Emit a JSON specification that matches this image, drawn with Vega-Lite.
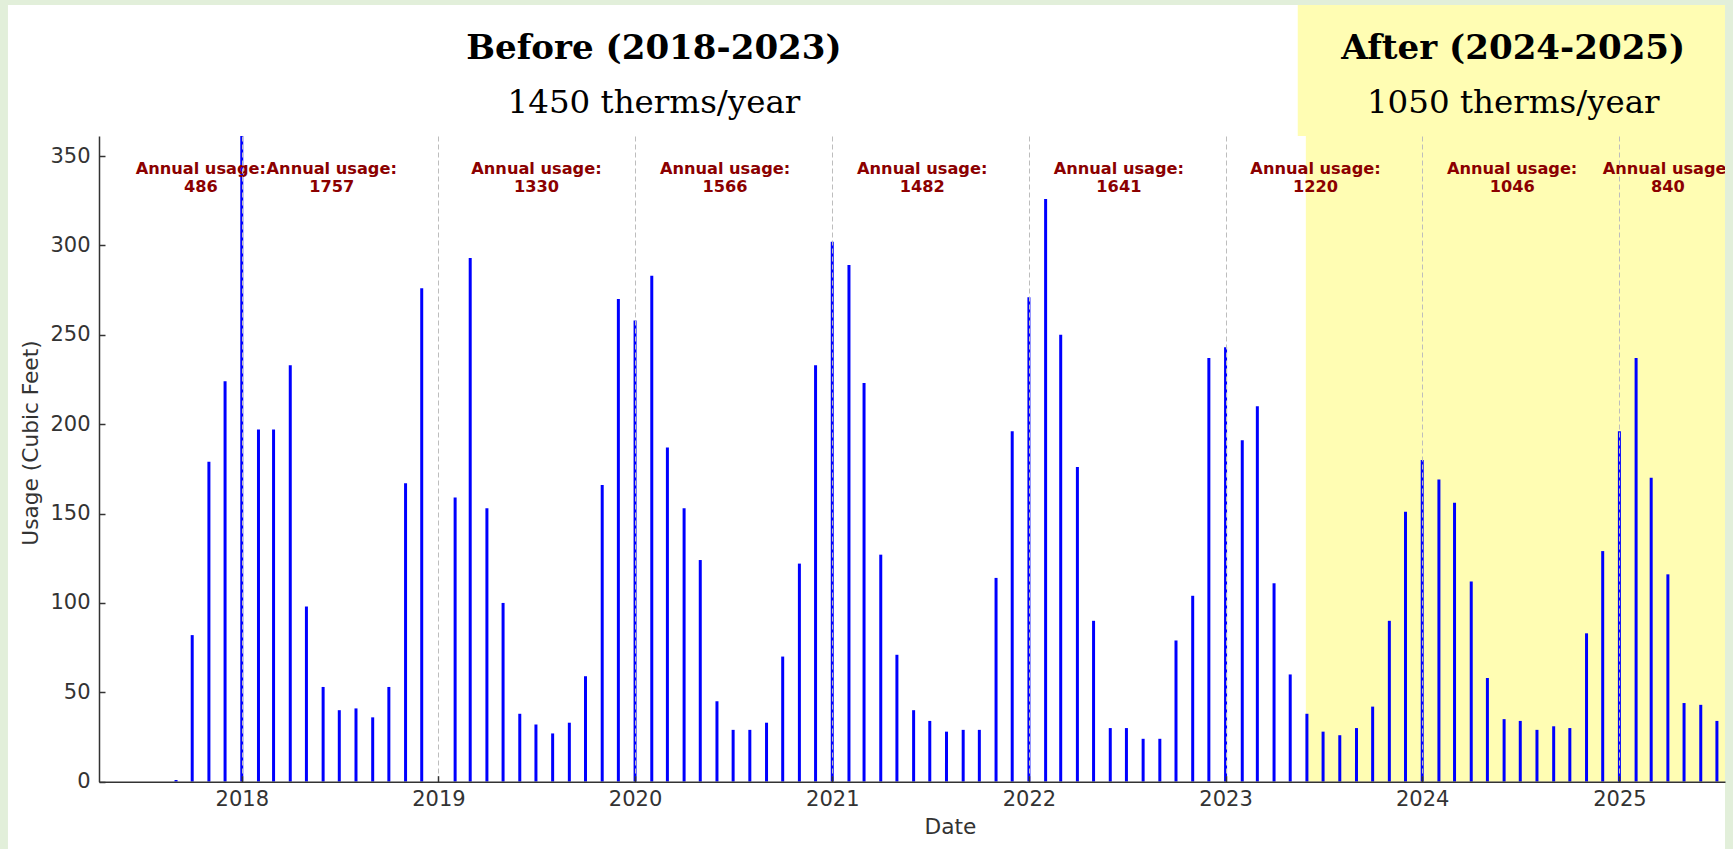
{
  "$schema": "https://vega.github.io/schema/vega-lite/v6.json",
  "width": 1626,
  "height": 645.7,
  "autosize": {"type": "none"},
  "padding": {"left": 99, "top": 136, "right": 8, "bottom": 67.3},
  "background": "#E2EFDA",
  "config": {
    "view": {"stroke": null},
    "axis": {
      "labelFont": "DejaVu Sans",
      "labelFontSize": 21,
      "labelColor": "#333333",
      "titleFont": "DejaVu Sans",
      "titleFontSize": 21.7,
      "titleFontWeight": "normal",
      "titleColor": "#333333",
      "domainColor": "#333333",
      "domainWidth": 1.5,
      "tickColor": "#333333",
      "tickWidth": 1.5
    }
  },
  "datasets": {
    "monthly": [
      {"date": "2017-09-01", "usage": 1},
      {"date": "2017-10-01", "usage": 82},
      {"date": "2017-11-01", "usage": 179},
      {"date": "2017-12-01", "usage": 224},
      {"date": "2018-01-01", "usage": 366},
      {"date": "2018-02-01", "usage": 197},
      {"date": "2018-03-01", "usage": 197},
      {"date": "2018-04-01", "usage": 233},
      {"date": "2018-05-01", "usage": 98},
      {"date": "2018-06-01", "usage": 53},
      {"date": "2018-07-01", "usage": 40},
      {"date": "2018-08-01", "usage": 41},
      {"date": "2018-09-01", "usage": 36},
      {"date": "2018-10-01", "usage": 53},
      {"date": "2018-11-01", "usage": 167},
      {"date": "2018-12-01", "usage": 276},
      {"date": "2019-02-01", "usage": 159},
      {"date": "2019-03-01", "usage": 293},
      {"date": "2019-04-01", "usage": 153},
      {"date": "2019-05-01", "usage": 100},
      {"date": "2019-06-01", "usage": 38},
      {"date": "2019-07-01", "usage": 32},
      {"date": "2019-08-01", "usage": 27},
      {"date": "2019-09-01", "usage": 33},
      {"date": "2019-10-01", "usage": 59},
      {"date": "2019-11-01", "usage": 166},
      {"date": "2019-12-01", "usage": 270},
      {"date": "2020-01-01", "usage": 258},
      {"date": "2020-02-01", "usage": 283},
      {"date": "2020-03-01", "usage": 187},
      {"date": "2020-04-01", "usage": 153},
      {"date": "2020-05-01", "usage": 124},
      {"date": "2020-06-01", "usage": 45},
      {"date": "2020-07-01", "usage": 29},
      {"date": "2020-08-01", "usage": 29},
      {"date": "2020-09-01", "usage": 33},
      {"date": "2020-10-01", "usage": 70},
      {"date": "2020-11-01", "usage": 122},
      {"date": "2020-12-01", "usage": 233},
      {"date": "2021-01-01", "usage": 302},
      {"date": "2021-02-01", "usage": 289},
      {"date": "2021-03-01", "usage": 223},
      {"date": "2021-04-01", "usage": 127},
      {"date": "2021-05-01", "usage": 71},
      {"date": "2021-06-01", "usage": 40},
      {"date": "2021-07-01", "usage": 34},
      {"date": "2021-08-01", "usage": 28},
      {"date": "2021-09-01", "usage": 29},
      {"date": "2021-10-01", "usage": 29},
      {"date": "2021-11-01", "usage": 114},
      {"date": "2021-12-01", "usage": 196},
      {"date": "2022-01-01", "usage": 271},
      {"date": "2022-02-01", "usage": 326},
      {"date": "2022-03-01", "usage": 250},
      {"date": "2022-04-01", "usage": 176},
      {"date": "2022-05-01", "usage": 90},
      {"date": "2022-06-01", "usage": 30},
      {"date": "2022-07-01", "usage": 30},
      {"date": "2022-08-01", "usage": 24},
      {"date": "2022-09-01", "usage": 24},
      {"date": "2022-10-01", "usage": 79},
      {"date": "2022-11-01", "usage": 104},
      {"date": "2022-12-01", "usage": 237},
      {"date": "2023-01-01", "usage": 243},
      {"date": "2023-02-01", "usage": 191},
      {"date": "2023-03-01", "usage": 210},
      {"date": "2023-04-01", "usage": 111},
      {"date": "2023-05-01", "usage": 60},
      {"date": "2023-06-01", "usage": 38},
      {"date": "2023-07-01", "usage": 28},
      {"date": "2023-08-01", "usage": 26},
      {"date": "2023-09-01", "usage": 30},
      {"date": "2023-10-01", "usage": 42},
      {"date": "2023-11-01", "usage": 90},
      {"date": "2023-12-01", "usage": 151},
      {"date": "2024-01-01", "usage": 180},
      {"date": "2024-02-01", "usage": 169},
      {"date": "2024-03-01", "usage": 156},
      {"date": "2024-04-01", "usage": 112},
      {"date": "2024-05-01", "usage": 58},
      {"date": "2024-06-01", "usage": 35},
      {"date": "2024-07-01", "usage": 34},
      {"date": "2024-08-01", "usage": 29},
      {"date": "2024-09-01", "usage": 31},
      {"date": "2024-10-01", "usage": 30},
      {"date": "2024-11-01", "usage": 83},
      {"date": "2024-12-01", "usage": 129},
      {"date": "2025-01-01", "usage": 196},
      {"date": "2025-02-01", "usage": 237},
      {"date": "2025-03-01", "usage": 170},
      {"date": "2025-04-01", "usage": 116},
      {"date": "2025-05-01", "usage": 44},
      {"date": "2025-06-01", "usage": 43},
      {"date": "2025-07-01", "usage": 34}
    ],
    "annual": [
      {"date": "2017-10-17", "label": "Annual usage:\n486"},
      {"date": "2018-06-17", "label": "Annual usage:\n1757"},
      {"date": "2019-07-02", "label": "Annual usage:\n1330"},
      {"date": "2020-06-16", "label": "Annual usage:\n1566"},
      {"date": "2021-06-17", "label": "Annual usage:\n1482"},
      {"date": "2022-06-17", "label": "Annual usage:\n1641"},
      {"date": "2023-06-17", "label": "Annual usage:\n1220"},
      {"date": "2024-06-16", "label": "Annual usage:\n1046"},
      {"date": "2025-04-01", "label": "Annual usage:\n840"}
    ],
    "periods": [
      {"date": "2020-02-05", "title": "Before (2018-2023)", "sub": "1450 therms/year"},
      {"date": "2024-06-18", "title": "After (2024-2025)", "sub": "1050 therms/year"}
    ]
  },
  "layer": [
    {
      "data": {"values": [{}]},
      "mark": {"type": "rect", "color": "#FFFFFF"},
      "encoding": {
        "x": {"datum": {"year": 2016, "month": 10, "date": 24}, "type": "temporal"},
        "x2": {"datum": {"year": 2025, "month": 7, "date": 16}},
        "y": {"datum": -40, "type": "quantitative"},
        "y2": {"datum": 434.5}
      }
    },
    {
      "data": {"values": [{}]},
      "mark": {"type": "rect", "color": "#FFFDB3"},
      "encoding": {
        "x": {"datum": {"year": 2023, "month": 5, "date": 15}, "type": "temporal"},
        "x2": {"datum": {"year": 2025, "month": 7, "date": 16}},
        "y": {"datum": 361.2, "type": "quantitative"},
        "y2": {"datum": 434.5}
      }
    },
    {
      "data": {"values": [{}]},
      "mark": {"type": "rect", "color": "#FFFDB3"},
      "encoding": {
        "x": {"datum": {"year": 2023, "month": 5, "date": 30}, "type": "temporal"},
        "x2": {"datum": {"year": 2025, "month": 7, "date": 16}},
        "y": {"datum": 0, "type": "quantitative"},
        "y2": {"datum": 361.2}
      }
    },
    {
      "data": {"name": "monthly"},
      "mark": {"type": "rule", "color": "#0000FF", "strokeWidth": 3, "clip": true},
      "encoding": {
        "x": {
          "field": "date",
          "type": "temporal",
          "scale": {"domain": [{"year": 2017, "month": 4, "date": 11}, {"year": 2025, "month": 7, "date": 16}], "nice": false},
          "axis": {
            "title": "Date",
            "format": "%Y",
            "values": [{"year": 2018, "month": 1, "date": 1}, {"year": 2019, "month": 1, "date": 1}, {"year": 2020, "month": 1, "date": 1}, {"year": 2021, "month": 1, "date": 1}, {"year": 2022, "month": 1, "date": 1}, {"year": 2023, "month": 1, "date": 1}, {"year": 2024, "month": 1, "date": 1}, {"year": 2025, "month": 1, "date": 1}],
            "grid": true,
            "gridColor": "#bdbdbd",
            "gridDash": [5, 3],
            "gridWidth": 1,
            "labelFlush": false,
            "tickSize": -6,
            "labelPadding": 13,
            "labelBaseline": "top",
            "titleX": 851,
            "titleY": 35,
            "titleBaseline": "top",
            "titleAlign": "center",
            "zindex": 1
          }
        },
        "y": {
          "field": "usage",
          "type": "quantitative",
          "scale": {"domain": [0, 361.2], "nice": false, "zero": true},
          "axis": {
            "title": "Usage (Cubic Feet)",
            "values": [0, 50, 100, 150, 200, 250, 300, 350],
            "grid": false,
            "tickSize": -6,
            "labelPadding": 15,
            "titleX": -68.5,
            "titleY": 306.5,
            "titleBaseline": "middle",
            "titleAlign": "center",
            "titleAngle": 270,
            "zindex": 1
          }
        },
        "y2": {"datum": 0}
      }
    },
    {
      "data": {"name": "annual"},
      "mark": {"type": "text", "font": "DejaVu Sans", "fontWeight": "bold", "fontSize": 16.2, "color": "#8B0000", "align": "center", "baseline": "top", "lineBreak": "\n", "lineHeight": 18, "clip": true},
      "encoding": {
        "x": {"field": "date", "type": "temporal"},
        "y": {"datum": 347, "type": "quantitative"},
        "text": {"field": "label"}
      }
    },
    {
      "data": {"name": "periods"},
      "mark": {"type": "text", "font": "DejaVu Serif", "fontWeight": "bold", "fontSize": 34.1, "color": "#000000", "align": "center", "baseline": "alphabetic"},
      "encoding": {
        "x": {"field": "date", "type": "temporal"},
        "y": {"datum": 404.1, "type": "quantitative"},
        "text": {"field": "title"}
      }
    },
    {
      "data": {"name": "periods"},
      "mark": {"type": "text", "font": "DejaVu Serif", "fontWeight": "normal", "fontSize": 32.5, "color": "#000000", "align": "center", "baseline": "alphabetic"},
      "encoding": {
        "x": {"field": "date", "type": "temporal"},
        "y": {"datum": 373.9, "type": "quantitative"},
        "text": {"field": "sub"}
      }
    }
  ]
}
